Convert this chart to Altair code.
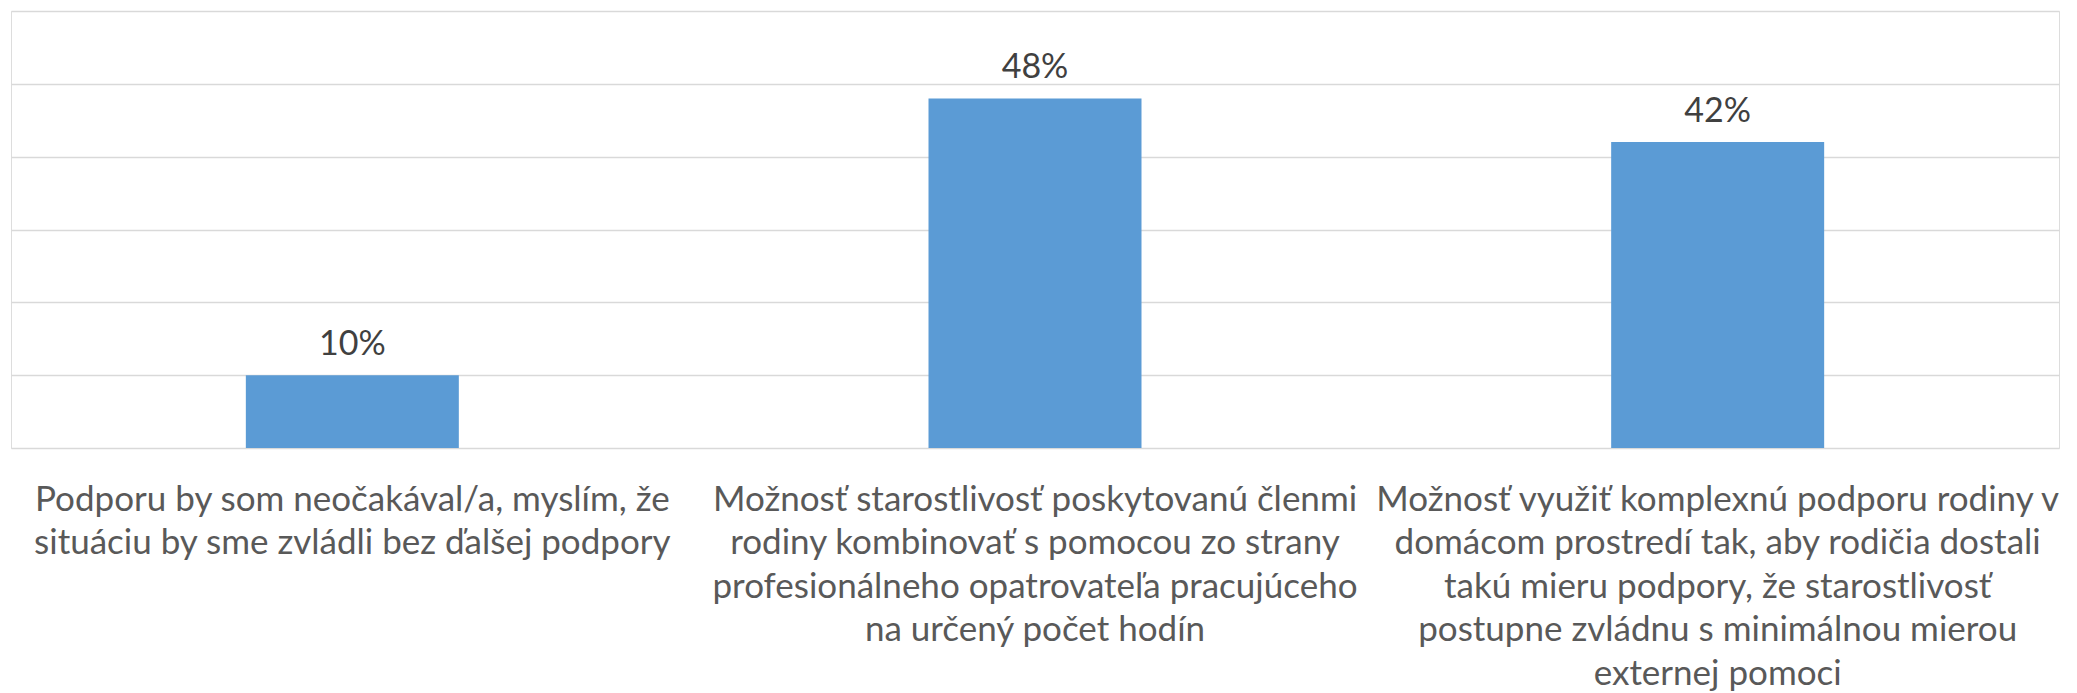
import altair as alt
import pandas as pd

categories = [
    "Podporu by som neočakával/a, myslím, že|situáciu by sme zvládli bez ďalšej podpory",
    "Možnosť starostlivosť poskytovanú členmi|rodiny kombinovať s pomocou zo strany|profesionálneho opatrovateľa pracujúceho|na určený počet hodín",
    "Možnosť využiť komplexnú podporu rodiny v|domácom prostredí tak, aby rodičia dostali|takú mieru podpory, že starostlivosť|postupne zvládnu s minimálnou mierou|externej pomoci",
]
values = [0.10, 0.48, 0.42]
value_labels = ["10%", "48%", "42%"]

df = pd.DataFrame({"cat": categories, "val": values, "lab": value_labels})

FONT = "Lato"

x = alt.X(
    "cat:N",
    sort=categories,
    title=None,
    scale=alt.Scale(paddingInner=0.688, paddingOuter=0.344),
    axis=alt.Axis(
        labelExpr="split(datum.label, '|')",
        labelAngle=0,
        labelFont=FONT,
        labelFontSize=35,
        labelColor="#595959",
        labelLineHeight=43.5,
        labelPadding=51,
        labelLimit=0,
        ticks=False,
        domain=False,
        grid=False,
        labelBaseline="middle",
    ),
)
y = alt.Y(
    "val:Q",
    title=None,
    scale=alt.Scale(domain=[0, 0.6], nice=False),
    axis=alt.Axis(
        values=[0, 0.1, 0.2, 0.3, 0.4, 0.5, 0.6],
        labels=False,
        ticks=False,
        domain=False,
        grid=True,
        gridColor="#D9D9D9",
        gridWidth=1.5,
    ),
)

bars = alt.Chart(df).mark_bar(color="#5B9BD5").encode(x=x, y=y)
text = alt.Chart(df).mark_text(
    baseline="alphabetic", dy=-20, font=FONT, fontSize=34, color="#404040"
).encode(x=alt.X("cat:N", sort=categories), y="val:Q", text="lab:N")

chart = (
    alt.layer(bars, text)
    .properties(
        width=2048,
        height=437,
        padding={"left": 3, "top": 3, "right": 10, "bottom": 244},
        autosize=alt.AutoSizeParams(type="none"),
    )
    .configure_view(strokeWidth=0, stroke="transparent")
    .configure(background="white")
)

chart.save("out.html", embed_options={"renderer": "svg", "actions": False})
